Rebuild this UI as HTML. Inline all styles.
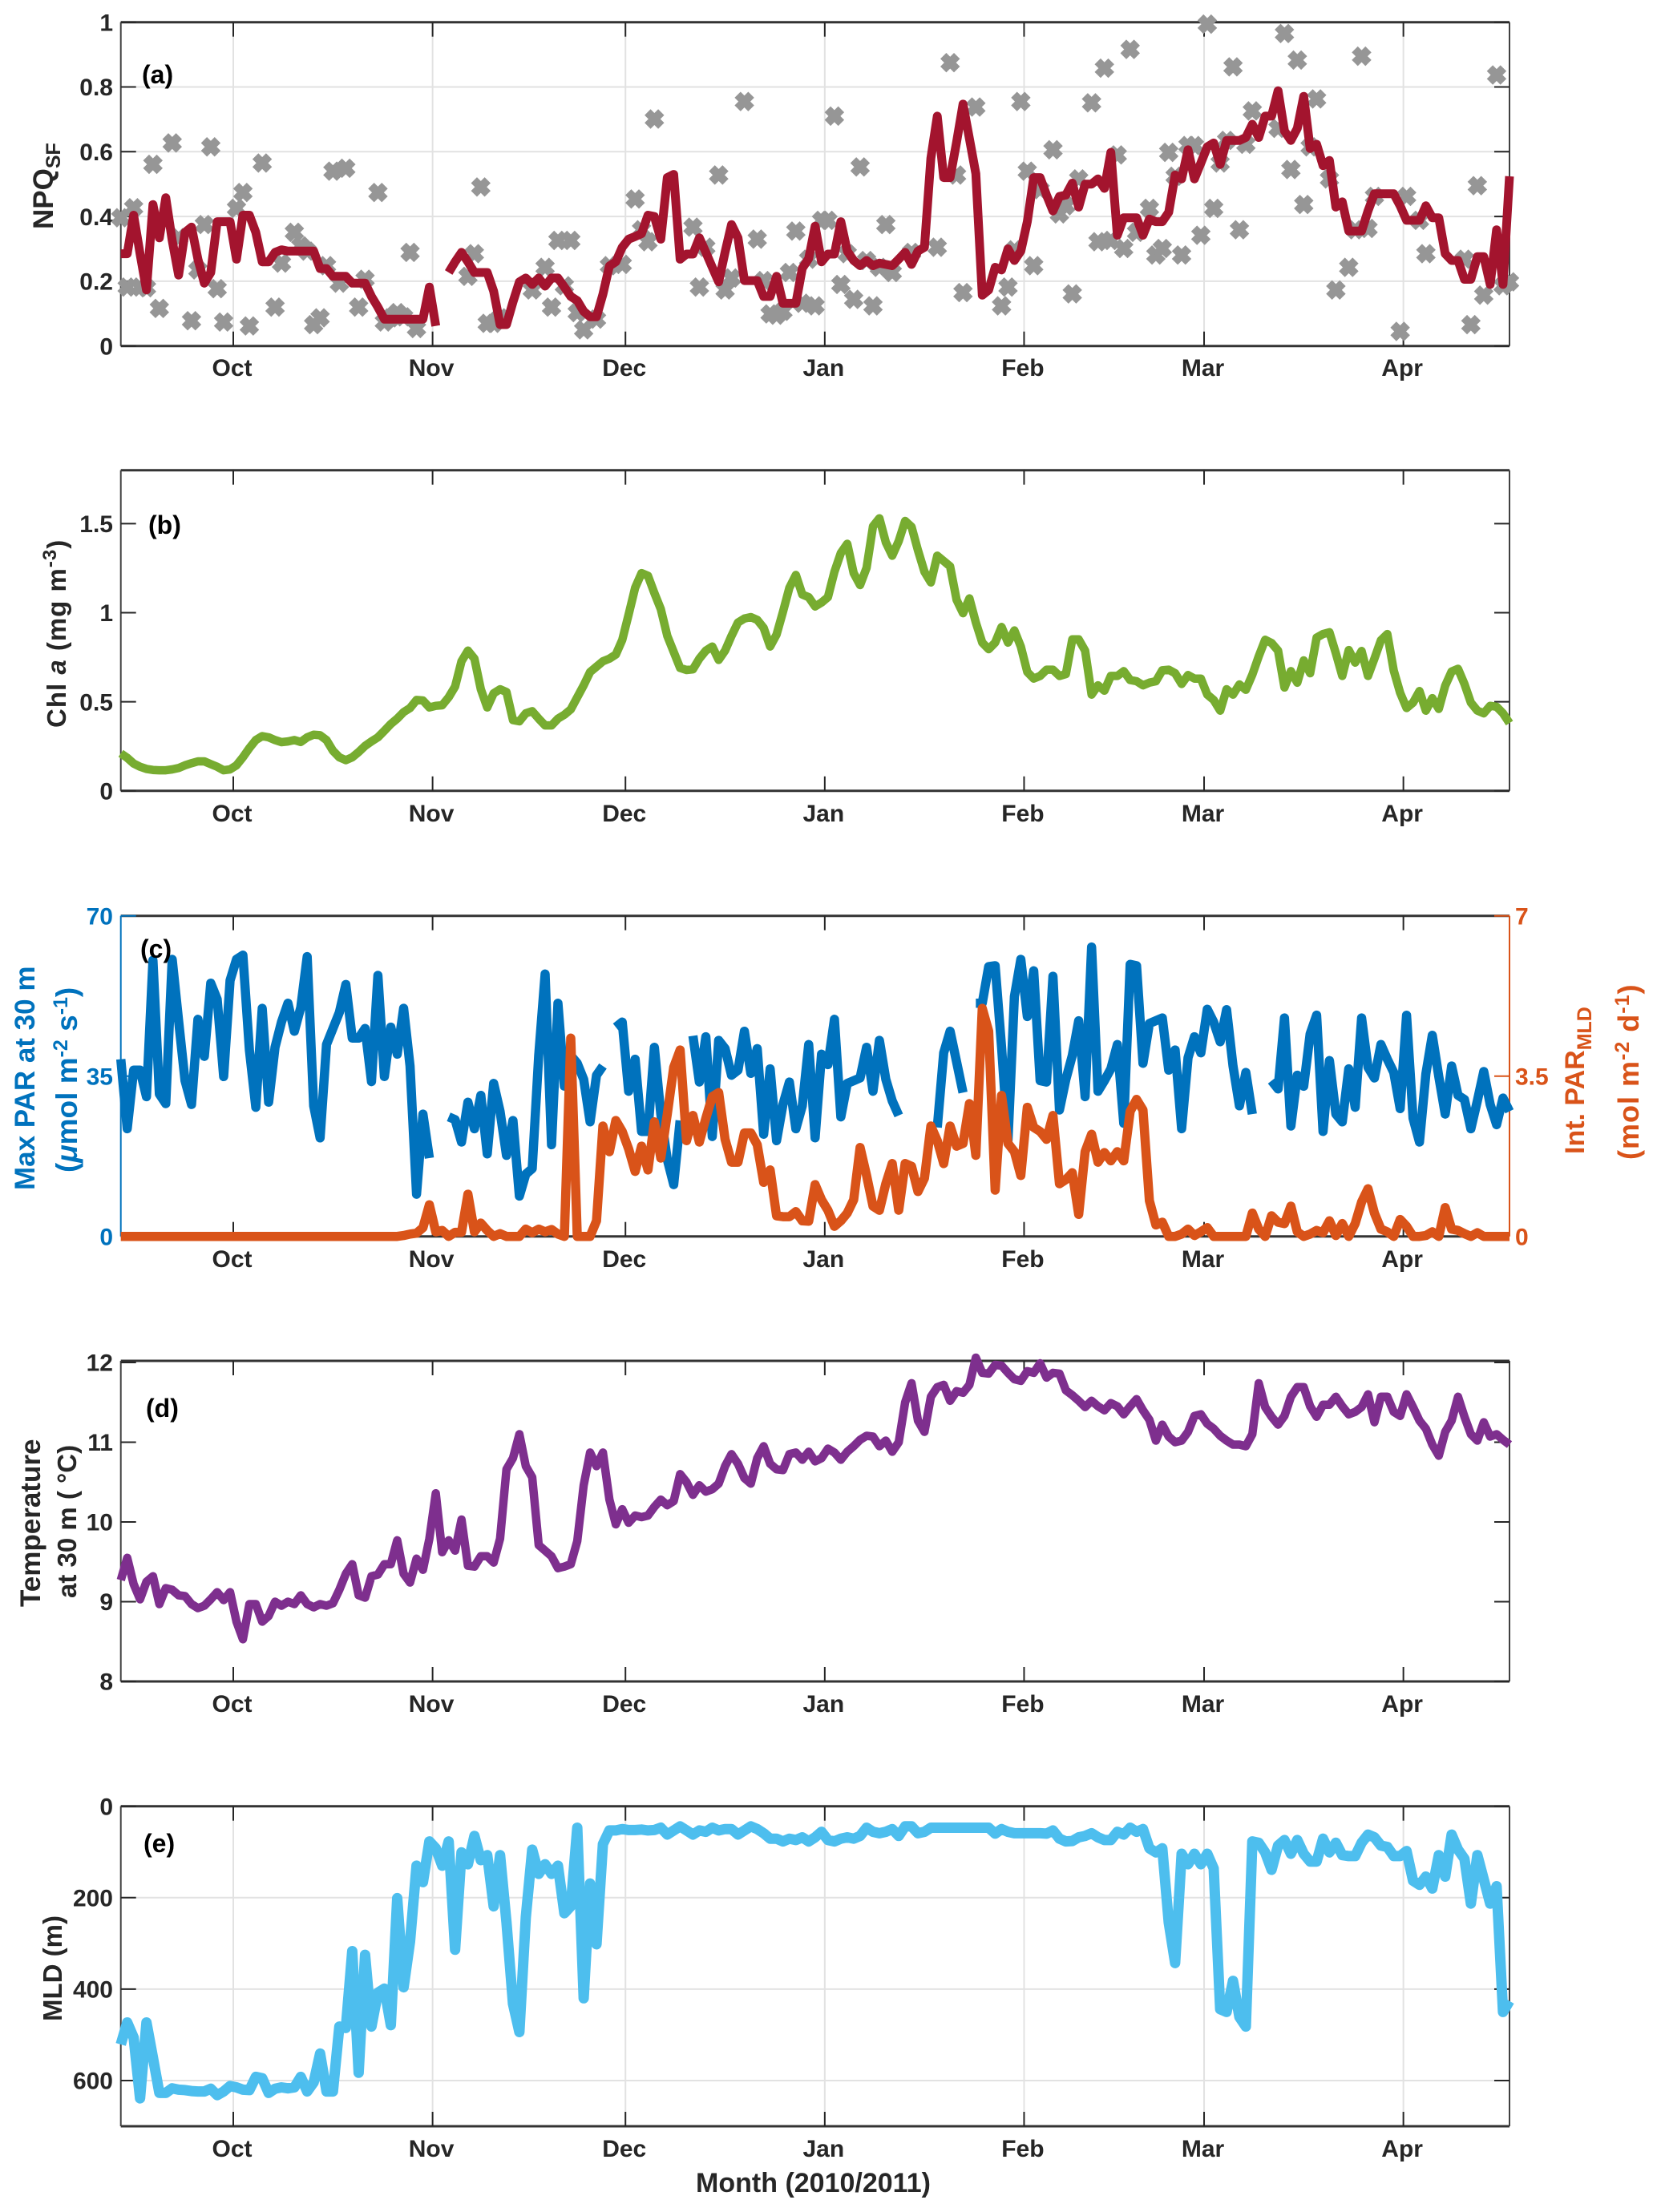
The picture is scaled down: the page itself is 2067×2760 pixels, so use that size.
<!DOCTYPE html>
<html lang="en">
<head>
<meta charset="utf-8">
<title>Time series of NPQ, Chl a, PAR, temperature and MLD</title>
<style>
html,body{margin:0;padding:0;background:#fff;}
svg{display:block;}
text{font-family:"Liberation Sans",sans-serif;font-weight:bold;}
</style>
</head>
<body>
<svg id="figure" xmlns="http://www.w3.org/2000/svg" width="2067" height="2760" viewBox="0 0 2067 2760">
<rect width="2067" height="2760" fill="#fff"/>
<g id="plots"></g>
<g fill="#262626">
<text transform="rotate(-90 66 286)" x="66" y="286" font-size="35">NPQ<tspan font-size="25" dy="9">SF</tspan></text>
<text transform="rotate(-90 82 908)" x="82" y="908" font-size="33" letter-spacing="1">Chl <tspan font-style="italic">a</tspan> (mg m<tspan font-size="24" dy="-12">-3</tspan><tspan dy="12">)</tspan></text>
<text transform="rotate(-90 43 1485)" x="43" y="1485" font-size="35">
<tspan fill="#0072BD">Max PAR at 30 m</tspan></text>
<text transform="rotate(-90 96 1463)" x="96" y="1463" font-size="37" fill="#0072BD">(<tspan font-style="italic">μ</tspan>mol m<tspan font-size="25" dy="-12">-2</tspan><tspan dy="12"> s</tspan><tspan font-size="25" dy="-12">-1</tspan><tspan dy="12">)</tspan></text>
<text transform="rotate(-90 1976 1440)" x="1976" y="1440" font-size="34" fill="#D95319">Int. PAR<tspan font-size="25" dy="9">MLD</tspan></text>
<text transform="rotate(-90 2044 1447)" x="2044" y="1447" font-size="36" fill="#D95319" letter-spacing="1">(mol m<tspan font-size="25" dy="-12">-2</tspan><tspan dy="12"> d</tspan><tspan font-size="25" dy="-12">-1</tspan><tspan dy="12">)</tspan></text>
<text transform="rotate(-90 50 2005)" x="50" y="2005" font-size="35">Temperature</text>
<text transform="rotate(-90 95 1994)" x="95" y="1994" font-size="33">at 30 m ( °C)</text>
<text transform="rotate(-90 77 2522)" x="77" y="2522" font-size="33">MLD (m)</text>
<text x="1014.5" y="2735" font-size="34" text-anchor="middle">Month (2010/2011)</text>
</g>
<g fill="#000" font-size="32">
<text x="177" y="104">(a)</text>
<text x="185" y="666">(b)</text>
<text x="175" y="1195">(c)</text>
<text x="182" y="1768">(d)</text>
<text x="179" y="2311">(e)</text>
</g>
</svg>
<script>
// ----- shared data -----
const firstDay = -17.5; // days relative to 1 Oct 2010 of array index 0
const lastDay = 198.5;
const monthLabels = ['Oct','Nov','Dec','Jan','Feb','Mar','Apr'];
const monthDays = [0,31,61,92,123,151,182];

// ----- panel (a) -----
const npqTicks = [0,0.2,0.4,0.6,0.8,1];
const npqTickLabels = ['0','0.2','0.4','0.6','0.8','1'];
const npqSmoothed = [
.285,.285,.404,.285,.173,.437,.334,.458,.326,.219,
.351,.367,.268,.194,.227,.384,.384,.384,.268,.404,
.404,.351,.26,.26,.289,.297,.293,.293,.293,.293,
.293,.239,.239,.215,.215,.215,.194,.194,.194,.153,
.12,.083,.083,.083,.083,.083,.083,.083,.182,.062,
null,.227,.26,.289,.26,.227,.227,.227,.169,.066,
.066,.136,.198,.21,.19,.21,.185,.21,.21,.182,
.153,.14,.107,.09,.09,.16,.247,.26,.305,.33,
.338,.347,.404,.40,.33,.52,.53,.268,.284,.284,
.334,.289,.243,.198,.29,.375,.334,.202,.202,.202,
.153,.153,.215,.132,.132,.132,.24,.27,.37,.26,
.284,.284,.384,.293,.264,.248,.264,.248,.256,.252,
.248,.268,.289,.252,.293,.305,.58,.71,.52,.52,
.63,.747,.64,.532,.157,.173,.243,.235,.30,.264,
.293,.384,.52,.52,.466,.417,.462,.466,.503,.429,
.50,.50,.516,.487,.598,.342,.396,.396,.396,.342,
.392,.384,.384,.413,.528,.516,.606,.516,.565,.615,
.627,.561,.635,.635,.635,.644,.685,.644,.71,.71,
.788,.664,.635,.672,.771,.61,.623,.557,.573,.429,
.445,.355,.355,.355,.417,.47,.47,.47,.47,.433,
.388,.388,.388,.433,.396,.396,.285,.264,.264,.206,
.206,.276,.276,.19,.359,.19,.524];
const npqPointDayIndex = [
0,1,2,3,4,5,6,8,9,11,12,13,14,15,16,18,19,20,22,24,25,27,28,29,30,31,32,33,34,35,37,38,40,41,42,43,44,45,46,
54,55,56,57,58,59,64,66,67,68,69,70,71,72,74,76,78,80,81,82,83,89,90,91,93,94,95,97,99,100,101,102,103,104,105,106,107,108,109,110,111,112,
113,114,115,116,117,118,119,120,123,127,129,130,131,133,137,138,139,140,141,142,143,145,146,147,148,149,151,152,153,154,155,156,157,158,160,161,162,163,164,165,166,167,168,169,170,171,172,173,174,175,176,180,181,182,183,184,185,186,188,189,191,192,193,194,195,199,200,202,203,209,210,211,212,214,215,216];
const npqPointValues = [
.396,.182,.427,.182,.18,.561,.116,.627,.334,.078,.235,.375,.615,.177,.074,.425,.474,.062,.565,.12,.256,.351,.309,.293,.066,.087,.248,.54,.194,.549,.12,.206,.474,.074,.087,.103,.09,.289,.054,
.215,.285,.491,.07,.07,.087,.173,.243,.12,.326,.186,.326,.103,.05,.083,.248,.252,.454,.359,.322,.701,.367,.182,.305,.528,.173,.21,.755,.33,.202,.099,.095,.107,.227,.355,.132,.268,.124,.388,.388,.71,.19,
.285,.144,.553,.264,.124,.243,.375,.227,.289,.305,.875,.528,.165,.738,.124,.182,.297,.755,.54,.248,.483,.606,.408,.433,.161,.516,.751,.322,.858,.326,.59,.301,.916,.351,.425,.281,.301,.598,.524,.281,.619,.619,.342,.994,.425,.565,.635,.862,.359,.623,.726,.672,.965,.545,.883,.437,.615,.763,.516,.173,.243,.359,.895,.363,.462,.045,.462,.388,.285,.268,.066,.495,.157,.837,.186,.198];

// ----- panel (b) -----
const chlTicks = [0,0.5,1,1.5];
const chlTickLabels = ['0','0.5','1','1.5'];
const chlValues = [
.21,.185,.153,.135,.123,.117,.115,.115,.12,.128,
.143,.155,.165,.165,.15,.135,.115,.12,.143,.188,
.24,.285,.307,.30,.285,.273,.277,.285,.274,.30,
.315,.312,.285,.225,.188,.172,.188,.218,.252,.277,
.30,.337,.375,.405,.442,.465,.51,.507,.468,.477,
.48,.525,.585,.727,.787,.742,.57,.468,.547,.57,
.555,.397,.39,.435,.447,.405,.367,.367,.405,.427,
.457,.525,.592,.667,.697,.727,.742,.765,.847,.99,
1.14,1.222,1.207,1.11,1.02,.87,.78,.69,.678,.682,
.742,.787,.81,.735,.787,.87,.945,.967,.975,.96,
.915,.81,.877,1.005,1.14,1.212,1.102,1.087,1.035,1.057,
1.087,1.23,1.335,1.387,1.222,1.155,1.252,1.485,1.53,1.395,
1.32,1.402,1.515,1.482,1.35,1.23,1.17,1.32,1.29,1.26,
1.072,.997,1.08,.945,.832,.795,.832,.92,.832,.9,
.81,.667,.63,.645,.68,.68,.645,.655,.85,.85,
.787,.54,.592,.562,.645,.645,.672,.622,.615,.592,
.607,.615,.677,.68,.66,.60,.65,.63,.63,.54,
.51,.45,.57,.54,.597,.567,.652,.755,.848,.83,
.787,.58,.672,.607,.732,.66,.86,.88,.89,.772,
.645,.79,.72,.785,.645,.742,.845,.88,.675,.55,
.465,.495,.56,.45,.52,.46,.59,.67,.685,.60,
.495,.45,.435,.477,.472,.435,.38];

// ----- panel (c) -----
const parLeftTicks = [0,35,70];
const parLeftTickLabels = ['0','35','70'];
const parRightTicks = [0,3.5,7];
const parRightTickLabels = ['0','3.5','7'];
const maxParValues = [
38.7,23.5,36.3,36.3,30.5,60.3,31.1,29,60.5,47.1,
34,28.8,47.4,39.3,55.3,51.8,34.9,55.9,60.5,61.4,
40.7,28.2,49.8,29.3,41.3,46.8,50.9,44.8,50,61.1,
28.5,21.5,41.9,45.4,48.9,55,43.3,43.3,45.4,33.8,
57,34.9,45.7,39.8,49.8,37.2,9.2,26.7,17.1,null,
null,26.1,25.5,20.6,29.3,23.5,30.8,18,33.4,27.3,
17.7,25.3,8.8,13.6,14.8,39.5,57.3,20,50.9,32.8,
39.5,37.8,34.3,25,35.2,37.2,null,45.7,46.8,31.7,
38.7,22.9,22.9,41.3,26.7,16.8,11.3,25.3,null,43.8,
33.7,43.6,21.8,42.8,41,35.2,36.3,44.8,35.6,41,
22.3,36.6,20.9,28.8,33.7,23.5,28.5,41.9,21.5,39.8,
37.5,47.4,26.1,33.4,34,34.6,41.3,31.7,42.8,34.3,
29.6,26.4,null,null,null,null,null,23.8,40.1,44.8,
38.1,31.4,null,50.9,50.9,58.9,59.1,41.3,20.9,52.4,
60.5,48,58,34,33.7,56.8,27.6,34.3,39.5,47.1,
30.5,63.2,31.7,34,36.6,41.9,24.7,59.4,59.1,37.8,
46.5,47.1,47.7,36.3,40.7,23.5,39,43.6,40.1,49.6,
46.8,42.5,49.5,37.2,28.5,35.8,26.7,null,null,34,
32.2,47.7,24.1,35.2,32.8,44.2,48.3,22.9,38.4,26.7,
25,36.6,28.2,47.7,36.9,34.6,41.9,38.7,35.8,27.9,
48.3,25.8,20.6,35.5,43.9,34.9,26.7,37.2,30.8,29.9,
23.5,29.6,36,28.8,24.4,30.2,27.3];
const intParValues = [
0,0,0,0,0,0,0,0,0,0,
0,0,0,0,0,0,0,0,0,0,
0,0,0,0,0,0,0,0,0,0,
0,0,0,0,0,0,0,0,0,0,
0,0,0,0,.02,.05,.07,.19,.69,.1,
.13,0,.09,.09,.92,.1,.29,.13,0,.06,
0,0,0,.16,.08,.16,.1,.15,.05,0,
4.33,0,0,0,.34,2.41,1.85,2.53,2.29,1.91,
1.42,1.97,1.45,2.5,1.71,2.67,3.69,4.07,2.09,2.64,
2.06,2.58,3.05,3.14,2.12,1.62,1.62,2.26,2.26,2.0,
1.18,1.45,.45,.43,.43,.54,.34,.33,1.13,.8,
.57,.22,.34,.51,.8,1.94,1.33,.66,.57,1.15,
1.59,.57,1.59,1.53,.98,1.27,2.41,2.09,1.59,2.41,
1.97,2.03,2.9,1.77,4.98,4.48,1.01,3.08,2.03,1.85,
1.33,2.82,2.38,2.29,2.12,2.64,1.15,1.24,1.39,.48,
1.85,2.23,1.62,1.83,1.65,1.85,1.65,2.73,2.99,2.76,
.78,.25,.31,0,0,.05,.16,.02,.1,.19,
0,0,0,0,0,0,.51,.16,0,.45,
.31,.28,.66,.1,0,.05,.13,.08,.34,.02,
.28,0,.28,.75,1.04,.51,.16,.1,0,.37,
.22,0,0,.02,.1,0,.63,.16,.13,.06,
0,.08,0,0,0,0,0];

// ----- panel (d) -----
const tempTicks = [8,9,10,11,12];
const tempTickLabels = ['8','9','10','11','12'];
const tempValues = [
9.27,9.55,9.22,9.03,9.25,9.32,8.97,9.17,9.15,9.08,
9.07,8.97,8.92,8.95,9.03,9.12,9.02,9.12,8.75,8.53,
8.97,8.97,8.75,8.82,9,8.95,9,8.97,9.08,8.97,
8.93,8.97,8.95,8.98,9.15,9.35,9.47,9.08,9.05,9.32,
9.34,9.47,9.47,9.77,9.35,9.24,9.54,9.4,9.79,10.36,
9.62,9.77,9.64,10.03,9.45,9.44,9.57,9.57,9.49,9.79,
10.66,10.8,11.1,10.7,10.56,9.71,9.64,9.57,9.42,9.44,
9.47,9.76,10.46,10.87,10.7,10.87,10.28,9.97,10.16,9.99,
10.08,10.06,10.08,10.19,10.28,10.21,10.26,10.6,10.5,10.34,
10.46,10.38,10.41,10.48,10.7,10.85,10.73,10.55,10.48,10.8,
10.95,10.73,10.66,10.65,10.85,10.87,10.78,10.88,10.76,10.8,
10.92,10.87,10.78,10.88,10.95,11.03,11.08,11.07,10.95,11.02,
10.88,11,11.5,11.74,11.27,11.13,11.57,11.69,11.72,11.52,
11.64,11.62,11.72,12.06,11.87,11.86,11.97,11.96,11.87,11.79,
11.77,11.89,11.87,11.99,11.81,11.87,11.86,11.65,11.59,11.52,
11.44,11.52,11.45,11.4,11.49,11.45,11.35,11.45,11.54,11.4,
11.28,11.02,11.22,11.07,11,11.02,11.13,11.33,11.35,11.23,
11.17,11.08,11.02,10.97,10.97,10.95,11.1,11.74,11.44,11.32,
11.22,11.33,11.57,11.69,11.69,11.45,11.32,11.47,11.47,11.57,
11.45,11.35,11.38,11.44,11.6,11.25,11.57,11.57,11.38,11.33,
11.6,11.44,11.27,11.17,10.97,10.83,11.13,11.27,11.57,11.32,
11.1,11.02,11.25,11.07,11.1,11.03,10.97];

// ----- panel (e) -----
const mldTicks = [0,200,400,600];
const mldTickLabels = ['0','200','400','600'];
const mldValues = [
521,473,506,639,473,550,627,627,617,620,
621,623,624,624,618,632,624,612,615,620,
621,592,595,627,618,615,617,615,592,624,
604,541,624,624,482,485,317,583,325,482,
408,399,479,201,396,296,130,166,77,92,
130,77,314,101,127,65,118,107,219,107,
254,432,494,243,95,148,127,148,130,234,
219,47,420,169,302,83,53,53,50,52,
52,51,53,52,47,62,53,44,53,62,
53,56,47,53,50,50,62,53,44,50,
59,71,71,77,71,74,68,77,68,56,
74,77,71,68,71,65,47,56,59,56,
50,65,44,44,59,56,47,47,47,47,
47,47,47,47,47,47,60,50,56,59,
59,59,59,59,60,53,71,77,76,68,
65,59,68,74,74,56,62,47,56,50,
92,101,92,254,343,104,127,104,127,104,
136,444,450,382,461,482,77,80,101,139,
86,74,104,74,104,121,121,71,101,80,
107,109,109,80,62,68,86,89,109,109,
98,163,172,154,180,107,154,62,95,115,
213,107,160,213,175,450,426];

// ----- drawing -----
const NS = 'http://www.w3.org/2000/svg';
const plotsRoot = document.getElementById('plots');
const axisLeft = 150.7, axisRight = 1883;
const dayZeroX = 291, pxPerDay = 8.02;
const inkColor = '#262626';

function xOfDay(day) { return dayZeroX + day * pxPerDay; }
function xOfIndex(i) { return xOfDay(firstDay + i); }
function makeY(domainAtTop, domainAtBottom, top, bottom) {
  return function (v) { return top + (v - domainAtTop) / (domainAtBottom - domainAtTop) * (bottom - top); };
}
function mk(tag, attrs, parent) {
  const el = document.createElementNS(NS, tag);
  for (const k in attrs) el.setAttribute(k, attrs[k]);
  parent.appendChild(el);
  return el;
}
function drawSeries(parent, values, yFn, color, width, name) {
  let d = '', pen = false;
  values.forEach(function (v, i) {
    if (v === null) { pen = false; return; }
    d += (pen ? 'L' : 'M') + xOfIndex(i).toFixed(1) + ' ' + yFn(v).toFixed(1);
    pen = true;
  });
  const el = mk('path', { d: d, fill: 'none', stroke: color, 'stroke-width': width, 'stroke-linejoin': 'round' }, parent);
  
  
}
function drawGrid(parent, ticks, yFn) {
  monthDays.forEach(function (day) {
    const el = mk('line', { x1: xOfDay(day), x2: xOfDay(day), y1: yFn(ticks.lo), y2: yFn(ticks.hi), stroke: '#e2e2e2', 'stroke-width': 2 }, parent);
    
    
  });
  ticks.values.forEach(function (v) {
    const el = mk('line', { x1: axisLeft, x2: axisRight, y1: yFn(v), y2: yFn(v), stroke: '#e2e2e2', 'stroke-width': 2 }, parent);
    
    
  });
}
function drawFrame(parent, top, bottom, leftColor, rightColor) {
  const topLine = mk('line', { x1: axisLeft, x2: axisRight, y1: top, y2: top, stroke: '#333', 'stroke-width': 3 }, parent);
  
  
  const bottomLine = mk('line', { x1: axisLeft, x2: axisRight, y1: bottom, y2: bottom, stroke: '#333', 'stroke-width': 3 }, parent);
  
  
  const leftLine = mk('line', { x1: axisLeft, x2: axisLeft, y1: top, y2: bottom, stroke: leftColor, 'stroke-width': 2 }, parent);
  
  
  const rightLine = mk('line', { x1: axisRight, x2: axisRight, y1: top, y2: bottom, stroke: rightColor, 'stroke-width': 2 }, parent);
  
  
}
function drawMonthTicks(parent, top, bottom, labelY) {
  monthDays.forEach(function (day, i) {
    const x = xOfDay(day);
    const lower = mk('line', { x1: x, x2: x, y1: bottom, y2: bottom - 18, stroke: inkColor, 'stroke-width': 2 }, parent);
    
    
    const upper = mk('line', { x1: x, x2: x, y1: top, y2: top + 18, stroke: inkColor, 'stroke-width': 2 }, parent);
    
    
    const label = mk('text', { x: x - 1.5, y: labelY, 'text-anchor': 'middle', 'font-size': 30, fill: inkColor }, parent);
    
    
    label.textContent = monthLabels[i];
  });
}
function drawLeftTicks(parent, ticks, labels, yFn, color, mirror) {
  ticks.forEach(function (v, i) {
    const y = yFn(v);
    const t = mk('line', { x1: axisLeft, x2: axisLeft + 19, y1: y, y2: y, stroke: color, 'stroke-width': 2 }, parent);
    
    
    if (mirror) {
      const m = mk('line', { x1: axisRight, x2: axisRight - 19, y1: y, y2: y, stroke: color, 'stroke-width': 2 }, parent);
      
      
    }
    const label = mk('text', { x: 141, y: y + 10.7, 'text-anchor': 'end', 'font-size': 30, fill: color }, parent);
    
    
    label.textContent = labels[i];
  });
}
function drawRightTicks(parent, ticks, labels, yFn, color) {
  ticks.forEach(function (v, i) {
    const y = yFn(v);
    const t = mk('line', { x1: axisRight, x2: axisRight - 19, y1: y, y2: y, stroke: color, 'stroke-width': 2 }, parent);
    
    
    const label = mk('text', { x: 1890, y: y + 10.7, 'font-size': 30, fill: color }, parent);
    
    
    label.textContent = labels[i];
  });
}
function newPanel(name) {
  const g = mk('g', {}, plotsRoot);
  
  
  return g;
}

// Panel (a)
(function () {
  const top = 27.7, bottom = 431.7;
  const y = makeY(1, 0, top, bottom);
  const g = newPanel('panel-a-npq');
  drawGrid(g, { lo: 0, hi: 1, values: [0.2, 0.4, 0.6, 0.8] }, y);
  drawFrame(g, top, bottom, '#404040', '#404040');
  drawMonthTicks(g, top, bottom, 469);
  drawLeftTicks(g, npqTicks, npqTickLabels, y, inkColor, true);
  npqPointValues.forEach(function (v, k) {
    const cx = xOfIndex(npqPointDayIndex[k]), cy = y(v), a = 8.5;
    const m = mk('path', { d: 'M' + (cx - a) + ' ' + (cy - a) + 'L' + (cx + a) + ' ' + (cy + a) + 'M' + (cx - a) + ' ' + (cy + a) + 'L' + (cx + a) + ' ' + (cy - a), stroke: '#969696', 'stroke-width': 10.5, fill: 'none' }, g);
    
    
  });
  drawSeries(g, npqSmoothed, y, '#A3142E', 11, 'npq-smoothed-line');
})();

// Panel (b)
(function () {
  const top = 586.7, bottom = 986.7;
  const y = makeY(1.8, 0, top, bottom);
  const g = newPanel('panel-b-chlorophyll');
  drawFrame(g, top, bottom, '#404040', '#404040');
  drawMonthTicks(g, top, bottom, 1025);
  drawLeftTicks(g, chlTicks, chlTickLabels, y, inkColor, true);
  drawSeries(g, chlValues, y, '#77AC30', 10.5, 'chlorophyll-line');
})();

// Panel (c)
(function () {
  const top = 1142.7, bottom = 1542.7;
  const yLeft = makeY(70, 0, top, bottom);
  const yRight = makeY(7, 0, top, bottom);
  const g = newPanel('panel-c-par');
  drawFrame(g, top, bottom, '#0072BD', '#D95319');
  drawMonthTicks(g, top, bottom, 1581);
  drawLeftTicks(g, parLeftTicks, parLeftTickLabels, yLeft, '#0072BD', false);
  drawRightTicks(g, parRightTicks, parRightTickLabels, yRight, '#D95319');
  drawSeries(g, maxParValues, yLeft, '#0072BD', 11.5, 'max-par-line');
  drawSeries(g, intParValues, yRight, '#D95319', 11.5, 'integrated-par-line');
})();

// Panel (d)
(function () {
  const top = 1698, bottom = 2098;
  const y = makeY(12, 8, top + 2, bottom);
  const g = newPanel('panel-d-temperature');
  drawFrame(g, top, bottom, '#404040', '#404040');
  drawMonthTicks(g, top, bottom, 2136);
  drawLeftTicks(g, tempTicks, tempTickLabels, y, inkColor, true);
  drawSeries(g, tempValues, y, '#7E2F8E', 10.5, 'temperature-line');
})();

// Panel (e)
(function () {
  const top = 2253.7, bottom = 2653;
  const y = makeY(0, 700, top, bottom);
  const g = newPanel('panel-e-mld');
  drawGrid(g, { lo: 0, hi: 700, values: [200, 400, 600] }, y);
  drawFrame(g, top, bottom, '#404040', '#404040');
  drawMonthTicks(g, top, bottom, 2691);
  drawLeftTicks(g, mldTicks, mldTickLabels, y, inkColor, true);
  drawSeries(g, mldValues, y, '#4DBEEE', 13, 'mixed-layer-depth-line');
})();
</script>
</body>
</html>
